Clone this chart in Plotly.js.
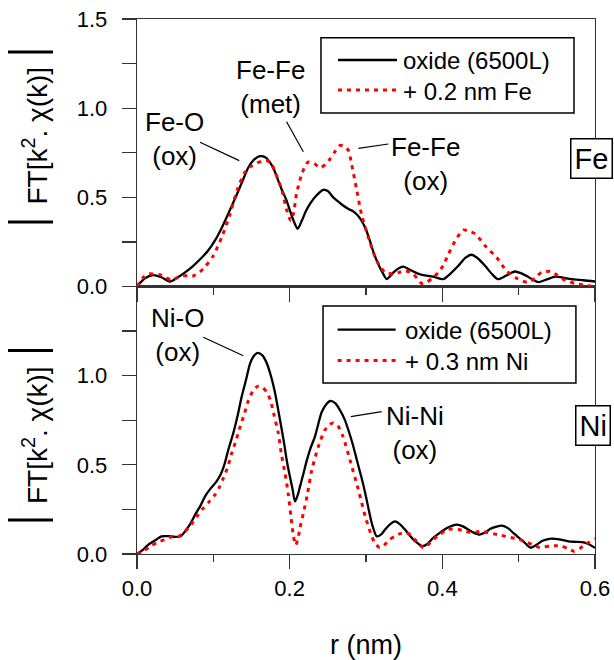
<!DOCTYPE html>
<html>
<head>
<meta charset="utf-8">
<script src="https://cdn.plot.ly/plotly-3.0.1.min.js"></script>
<style>html,body{margin:0;padding:0;background:#fff;}#chart{width:614px;height:660px;}</style>
</head>
<body>
<div id="chart"></div>
<script>
// ---------- data ----------
const rFeOx = [0, .01, .021, .032, .043, .053, .063, .073, .083, .093, .102, .11, .1175, .125, .133, .14, .146, .153, .161, .168, .174, .18, .185, .19, .196, .2, .205, .2105, .216, .221, .2266, .235, .244, .25, .257, .264, .27, .277, .283, .289, .294, .3, .305, .31, .316, .322, .327, .331, .336, .342, .349, .355, .362, .368, .375, .388, .401, .41, .421, .43, .438, .446, .456, .465, .473, .483, .495, .503, .51, .518, .526, .537, .548, .558, .569, .585, .6];
const ftFeOx = [0, .045, .064, .052, .028, .05, .079, .113, .154, .2, .257, .32, .388, .46, .538, .61, .669, .71, .731, .725, .697, .65, .594, .54, .482, .43, .37, .323, .37, .42, .463, .51, .542, .535, .50, .475, .454, .435, .422, .40, .37, .32, .257, .19, .126, .075, .041, .055, .079, .10, .111, .10, .084, .072, .064, .055, .041, .07, .116, .16, .178, .16, .116, .07, .041, .06, .084, .075, .06, .04, .025, .04, .055, .05, .041, .035, .028];

const rFeMet = [0, .008, .015, .022, .03, .038, .045, .053, .06, .068, .074, .082, .089, .1, .111, .122, .131, .1415, .15, .157, .165, .17, .176, .181, .19, .196, .2015, .205, .209, .216, .224, .232, .24, .247, .253, .26, .266, .272, .277, .281, .288, .294, .303, .314, .325, .336, .344, .351, .357, .362, .368, .373, .38, .388, .395, .401, .408, .417, .4275, .435, .443, .456, .471, .484, .497, .513, .522, .53, .543, .55, .558, .574, .591, .6];
const ftFeMet = [0, .05, .07, .07, .066, .05, .036, .05, .06, .06, .06, .08, .11, .173, .276, .407, .538, .641, .675, .692, .705, .707, .69, .641, .538, .43, .37, .41, .52, .632, .697, .69, .666, .685, .716, .76, .791, .785, .763, .688, .538, .407, .276, .145, .079, .07, .08, .088, .082, .07, .04, .017, .025, .051, .08, .116, .182, .257, .317, .31, .295, .229, .163, .088, .047, .023, .05, .079, .084, .065, .041, .017, .004, 0];

const rNiOx = [0, .008, .015, .025, .032, .041, .05, .057, .063, .07, .076, .083, .089, .096, .104, .11, .115, .12, .126, .132, .137, .143, .148, .153, .158, .164, .17, .176, .181, .187, .192, .196, .2, .2035, .207, .2105, .2135, .218, .222, .227, .233, .242, .248, .253, .26, .266, .272, .277, .283, .288, .294, .299, .3035, .3075, .314, .32, .325, .331, .338, .345, .351, .357, .362, .368, .373, .38, .388, .397, .406, .412, .419, .427, .434, .441, .449, .456, .4625, .47, .478, .486, .493, .5, .506, .511, .516, .523, .53, .537, .543, .555, .565, .575, .583, .592, .6];
const ftNiOx = [0, .025, .053, .08, .099, .1, .096, .1, .127, .17, .22, .27, .322, .365, .406, .45, .509, .59, .676, .78, .88, .98, 1.066, 1.11, 1.128, 1.115, 1.07, .99, .9, .76, .64, .53, .44, .37, .295, .33, .378, .45, .518, .59, .657, .796, .84, .858, .845, .806, .755, .694, .61, .527, .43, .341, .25, .174, .099, .11, .137, .165, .183, .165, .137, .105, .081, .06, .044, .055, .09, .12, .146, .157, .165, .155, .137, .12, .109, .12, .14, .152, .159, .145, .118, .092, .071, .05, .035, .05, .071, .082, .086, .08, .071, .068, .066, .055, .035];

const rNiMet = [0, .01, .019, .03, .0455, .055, .061, .068, .074, .08, .087, .095, .102, .108, .113, .119, .124, .13, .135, .141, .146, .152, .158, .164, .17, .175, .179, .185, .189, .194, .198, .202, .205, .208, .211, .2135, .218, .223, .229, .2375, .246, .252, .257, .263, .27, .279, .29, .299, .3075, .312, .318, .324, .331, .338, .345, .353, .359, .364, .37, .375, .381, .388, .397, .406, .413, .421, .428, .436, .444, .452, .46, .467, .475, .483, .4975, .511, .518, .526, .533, .541, .548, .556, .565, .572, .58, .587, .6];
const ftNiMet = [0, .022, .047, .07, .096, .1, .118, .15, .183, .22, .258, .295, .332, .375, .425, .49, .564, .64, .713, .79, .862, .915, .94, .935, .908, .86, .788, .68, .564, .45, .341, .2, .1, .05, .09, .146, .23, .33, .471, .601, .694, .725, .735, .72, .657, .527, .36, .211, .099, .06, .035, .05, .081, .1, .114, .118, .105, .081, .055, .035, .05, .081, .11, .137, .14, .137, .13, .122, .124, .127, .12, .114, .106, .099, .085, .066, .052, .038, .04, .044, .046, .044, .03, .016, .03, .053, .085];

const seriesNames = ['oxide (6500L)', '+ 0.2 nm Fe', '+ 0.3 nm Ni'];
const panelLabels = ['Fe', 'Ni'];
const topTicks = [0, 0.5, 1.0, 1.5];
const bottomTicks = [0, 0.5, 1.0];
const xTitle = 'r (nm)';
const yTitle = 'FT[k<sup>2</sup>. χ(k)]';

// ---------- styles ----------
const FONT = 'Arial, "Liberation Sans", sans-serif';
const AX = '#333';
const solid = {color: '#000000', width: 2.3, shape: 'spline', smoothing: 0.7};
const dotted = {color: '#ff0000', width: 3, dash: '4px,5px', shape: 'spline', smoothing: 0.7};

const traces = [
  {x: rFeOx, y: ftFeOx, xaxis: 'x2', yaxis: 'y2', mode: 'lines', line: solid, name: seriesNames[0], showlegend: false},
  {x: rFeMet, y: ftFeMet, xaxis: 'x2', yaxis: 'y2', mode: 'lines', line: dotted, name: seriesNames[1], showlegend: false},
  {x: rNiOx, y: ftNiOx, xaxis: 'x', yaxis: 'y', mode: 'lines', line: solid, name: seriesNames[0], showlegend: false},
  {x: rNiMet, y: ftNiMet, xaxis: 'x', yaxis: 'y', mode: 'lines', line: dotted, name: seriesNames[2], showlegend: false}
];

const xBase = {range: [0, 0.6], showgrid: false, zeroline: false, showline: true, mirror: true,
  linecolor: AX, linewidth: 1.3, ticks: 'outside', ticklen: 14, tickwidth: 1.3, tickcolor: AX,
  dtick: 0.2, tick0: 0, tickformat: '.1f', minor: {dtick: 0.1, ticks: 'outside', ticklen: 7, tickwidth: 1.3, tickcolor: AX}};
const yBase = {range: [0, 1.5], showgrid: false, zeroline: false, showline: true, mirror: true,
  linecolor: AX, linewidth: 1.3, ticks: 'outside', ticklen: 14, tickwidth: 1.3, tickcolor: AX,
  tickmode: 'array', tickformat: '.1f', ticklabelstandoff: 10,
  tickfont: {family: FONT, size: 22, color: '#000'},
  minor: {dtick: 0.25, tick0: 0, ticks: 'outside', ticklen: 14, tickwidth: 1.3, tickcolor: AX}};
const rightTicks = {range: [0, 1.5], showgrid: false, zeroline: false, showline: false, side: 'right',
  ticks: 'inside', ticklen: 14, tickwidth: 1.3, tickcolor: AX, dtick: 0.5, tick0: 0, showticklabels: false,
  minor: {dtick: 0.25, ticks: 'inside', ticklen: 7, tickwidth: 1.3, tickcolor: AX}};

const layout = {
  width: 614, height: 660,
  margin: {l: 137, r: 19, t: 19, b: 106},
  paper_bgcolor: '#fff', plot_bgcolor: '#fff',
  font: {family: FONT, color: '#000'},
  showlegend: false,
  xaxis: Object.assign({}, xBase, {anchor: 'y', domain: [0, 1], ticklabelstandoff: 0,
    tickfont: {family: FONT, size: 22, color: '#000'},
    title: {text: xTitle, font: {family: FONT, size: 27, color: '#000'}, standoff: 37}}),
  xaxis2: Object.assign({}, xBase, {anchor: 'y2', matches: 'x', showticklabels: false}),
  xaxis3: {overlaying: 'x2', anchor: 'y2', side: 'top', range: [0, 0.6], showgrid: false, zeroline: false,
    showline: false, ticks: 'inside', ticklen: 6, tickwidth: 1.3, tickcolor: AX, dtick: 0.1, tick0: 0, showticklabels: false},
  yaxis: Object.assign({}, yBase, {anchor: 'x', domain: [0, 0.5], tickvals: bottomTicks}),
  yaxis2: Object.assign({}, yBase, {anchor: 'x2', domain: [0.5, 1], tickvals: topTicks}),
  yaxis3: Object.assign({}, rightTicks, {overlaying: 'y', anchor: 'x'}),
  yaxis4: Object.assign({}, rightTicks, {overlaying: 'y2', anchor: 'x2'}),
  shapes: [],
  annotations: []
};

function seg(xr, yr, x0, y0, x1, y1, line) {
  layout.shapes.push({type: 'line', xref: xr, yref: yr, x0: x0, y0: y0, x1: x1, y1: y1, line: line, layer: 'above'});
}
function txt(xr, yr, x, y, text, size, extra) {
  layout.annotations.push(Object.assign({xref: xr, yref: yr, x: x, y: y, text: text, showarrow: false,
    font: {family: FONT, size: size, color: '#000'}, xanchor: 'center', yanchor: 'middle'}, extra || {}));
}
const thin = {color: '#000', width: 1.2};

// legend boxes (drawn manually to match the reference look)
layout.shapes.push({type: 'rect', xref: 'x2', yref: 'y2', x0: .241, x1: .5725, y0: .973, y1: 1.395,
  line: {color: '#000', width: 1.5}, fillcolor: '#fff', layer: 'above'});
seg('x2', 'y2', .2633, 1.27, .3406, 1.27, {color: '#000', width: 2.3});
seg('x2', 'y2', .2633, 1.102, .3406, 1.102, {color: '#ff0000', width: 3, dash: '4px,5px'});
txt('x2', 'y2', .3459, 1.266, seriesNames[0], 24, {xanchor: 'left'});
txt('x2', 'y2', .3459, 1.096, seriesNames[1], 24, {xanchor: 'left'});

layout.shapes.push({type: 'rect', xref: 'x', yref: 'y', x0: .2437, x1: .575, y0: .959, y1: 1.391,
  line: {color: '#000', width: 1.5}, fillcolor: '#fff', layer: 'above'});
seg('x', 'y', .2628, 1.258, .3388, 1.258, {color: '#000', width: 2.3});
seg('x', 'y', .2628, 1.085, .3388, 1.085, {color: '#ff0000', width: 3, dash: '4px,5px'});
txt('x', 'y', .349, 1.254, seriesNames[0], 24, {xanchor: 'left'});
txt('x', 'y', .349, 1.08, seriesNames[2], 24, {xanchor: 'left'});

// peak labels with leader lines
txt('x2', 'y2', .0485, .827, 'Fe-O<br>(ox)', 26);
seg('x2', 'y2', .0825, .809, .134, .706, thin);
txt('x2', 'y2', .1749, 1.119, 'Fe-Fe<br>(met)', 26);
seg('x2', 'y2', .196, .924, .2179, .756, thin);
txt('x2', 'y2', .378, .687, 'Fe-Fe<br>(ox)', 26);
seg('x2', 'y2', .29, .775, .3292, .799, thin);
txt('x', 'y', .0537, 1.228, 'Ni-O<br>(ox)', 26);
seg('x', 'y', .0869, 1.215, .1393, 1.112, thin);
txt('x', 'y', .3642, .681, 'Ni-Ni<br>(ox)', 26);
seg('x', 'y', .28, .77, .3206, .798, thin);

// element boxes at the right edge
txt('paper', 'paper', .9454, .7393, panelLabels[0], 29, {xanchor: 'left', bordercolor: '#000', borderwidth: 1.5, borderpad: 3, bgcolor: '#fff'});
txt('paper', 'paper', .9563, .2411, panelLabels[1], 29, {xanchor: 'left', bordercolor: '#000', borderwidth: 1.5, borderpad: 3, bgcolor: '#fff'});

// y-axis titles (one per panel) with modulus bars drawn as horizontal strokes (rotated "|")
[[.7822, 52, 222], [.2224, 350.6, 520]].forEach(function (p) {
  txt('paper', 'paper', (35 - 137) / 458, p[0], yTitle, 28, {textangle: -90});
  [p[1], p[2]].forEach(function (py) {
    layout.shapes.push({type: 'line', xref: 'paper', yref: 'paper',
      x0: (8 - 137) / 458, x1: (53 - 137) / 458, y0: (554 - py) / 535, y1: (554 - py) / 535,
      line: {color: '#000', width: 3}});
  });
});

Plotly.newPlot('chart', traces, layout, {displayModeBar: false, staticPlot: true});
</script>
</body>
</html>
